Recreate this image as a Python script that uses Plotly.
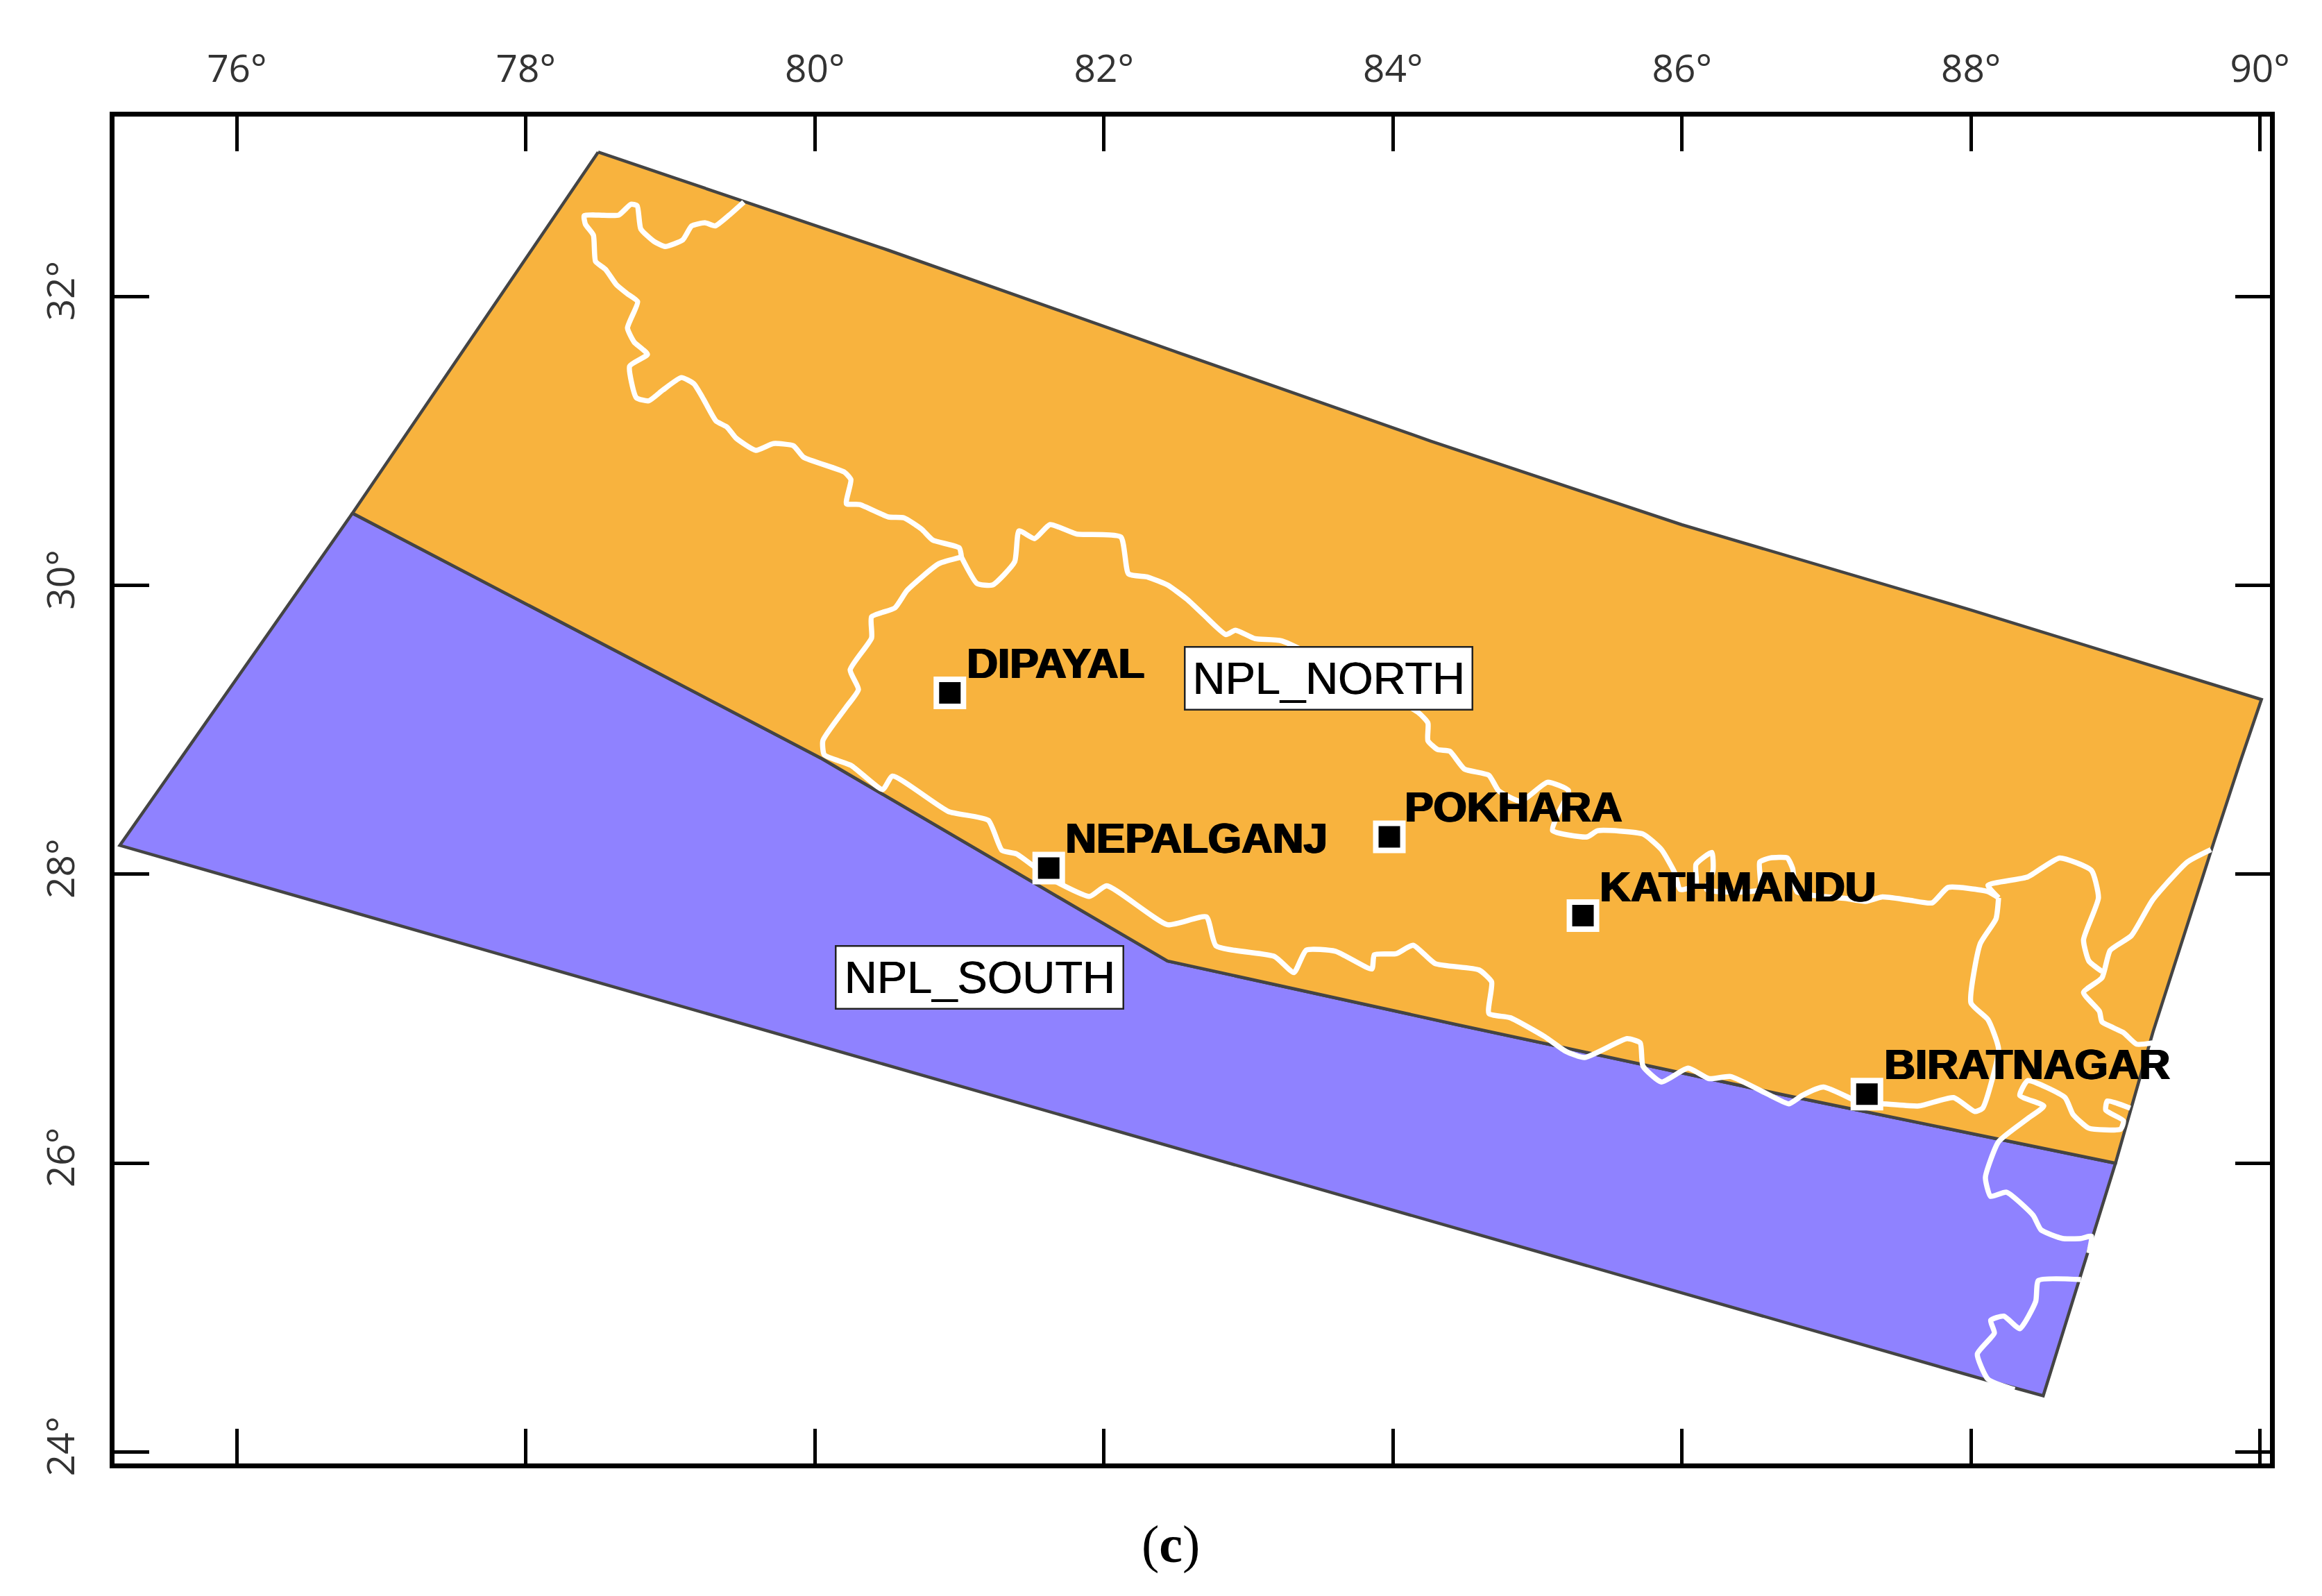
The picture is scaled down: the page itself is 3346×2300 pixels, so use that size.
import plotly.graph_objects as go

# Region polygons (longitude, latitude in degrees)
north_lon = [78.50, 80.51, 82.52, 84.26, 86.00, 88.00, 90.01, 89.86, 89.68, 89.48, 89.26, 89.00, 86.72, 84.44, 82.44, 80.05, 76.80, 78.50]
north_lat = [33.00, 32.32, 31.61, 31.00, 30.42, 29.83, 29.21, 28.77, 28.22, 27.60, 26.91, 26.00, 26.47, 26.96, 27.40, 28.80, 30.50, 33.00]
south_lon = [76.80, 80.05, 82.44, 84.44, 86.72, 89.00, 88.82, 88.50, 88.10, 84.44, 75.19, 76.80]
south_lat = [30.50, 28.80, 27.40, 26.96, 26.47, 26.00, 25.42, 24.39, 24.50, 25.55, 28.20, 30.50]

# White boundary lines
india_nw_lon = [79.508, 79.407, 79.309, 79.239, 79.147, 79.086, 78.963, 78.886, 78.795, 78.770, 78.727, 78.642, 78.504, 78.403, 78.412, 78.467, 78.482, 78.550, 78.626, 78.703, 78.773, 78.703, 78.749, 78.841, 78.718, 78.764, 78.850, 78.948, 79.076, 79.162, 79.223, 79.315, 79.392, 79.453, 79.591, 79.713, 79.851, 79.921, 80.203, 80.249, 80.218, 80.310, 80.509, 80.616, 80.739, 80.815, 80.999, 81.014]
india_nw_lat = [32.654, 32.564, 32.489, 32.511, 32.489, 32.393, 32.346, 32.382, 32.468, 32.629, 32.639, 32.564, 32.564, 32.560, 32.500, 32.425, 32.243, 32.189, 32.082, 32.018, 31.964, 31.782, 31.685, 31.600, 31.518, 31.300, 31.278, 31.353, 31.439, 31.396, 31.300, 31.139, 31.096, 31.021, 30.935, 30.982, 30.967, 30.888, 30.785, 30.732, 30.566, 30.560, 30.474, 30.468, 30.389, 30.314, 30.260, 30.196]

nepal_north_lon = [81.014, 81.122, 81.229, 81.382, 81.412, 81.520, 81.627, 81.811, 82.117, 82.170, 82.305, 82.440, 82.574, 82.692, 82.844, 82.911, 83.046, 83.231, 84.174, 84.242, 84.242, 84.309, 84.393, 84.494, 84.664, 84.731, 84.885, 85.069, 85.215, 85.142, 85.105, 85.344, 85.417, 85.730, 85.858, 85.950, 85.987, 86.097, 86.097, 86.207, 86.215, 86.171, 86.538, 86.538, 86.611, 86.729, 86.766, 86.795, 87.144, 87.273, 87.383, 87.567, 87.732, 87.842, 88.118, 88.191]
nepal_north_lat = [30.196, 30.013, 30.003, 30.163, 30.378, 30.324, 30.421, 30.356, 30.335, 30.080, 30.057, 30.003, 29.905, 29.795, 29.660, 29.690, 29.631, 29.616, 29.121, 29.048, 28.925, 28.864, 28.852, 28.729, 28.686, 28.579, 28.506, 28.637, 28.579, 28.419, 28.302, 28.259, 28.302, 28.279, 28.171, 28.011, 27.895, 27.924, 28.069, 28.151, 28.026, 27.895, 27.895, 28.084, 28.113, 28.113, 28.040, 27.880, 27.831, 27.813, 27.843, 27.822, 27.802, 27.909, 27.880, 27.837]

nepal_south_lon = [81.014, 80.857, 80.638, 80.553, 80.392, 80.392, 80.244, 80.301, 80.217, 80.055, 80.065, 80.250, 80.469, 80.537, 80.924, 81.200, 81.294, 81.395, 81.631, 81.901, 82.019, 82.440, 82.709, 82.776, 83.180, 83.315, 83.400, 83.602, 83.854, 83.871, 84.022, 84.140, 84.292, 84.595, 84.683, 84.664, 84.811, 85.050, 85.197, 85.326, 85.620, 85.711, 85.730, 85.858, 86.042, 86.189, 86.336, 86.611, 86.740, 86.832, 86.979, 87.280, 87.383, 87.640, 87.879, 88.026, 88.081, 88.191, 88.118, 88.000, 88.063, 88.173, 88.191]
nepal_south_lat = [30.196, 30.150, 29.966, 29.844, 29.783, 29.636, 29.415, 29.280, 29.158, 28.925, 28.827, 28.754, 28.587, 28.680, 28.435, 28.374, 28.166, 28.141, 27.970, 27.847, 27.921, 27.651, 27.705, 27.504, 27.431, 27.320, 27.475, 27.467, 27.345, 27.443, 27.450, 27.509, 27.382, 27.338, 27.255, 27.036, 27.007, 26.876, 26.774, 26.731, 26.862, 26.833, 26.672, 26.562, 26.658, 26.585, 26.600, 26.469, 26.411, 26.469, 26.527, 26.400, 26.411, 26.396, 26.454, 26.358, 26.381, 26.789, 26.993, 27.109, 27.517, 27.691, 27.837]

sikkim_lon = [88.191, 88.118, 88.393, 88.614, 88.834, 88.882, 88.779, 88.816, 88.907]
sikkim_lat = [27.837, 27.924, 27.982, 28.113, 28.026, 27.837, 27.546, 27.400, 27.327]

bhutan_lon = [89.661, 89.496, 89.257, 89.110, 88.963, 88.907, 88.779, 88.889, 88.907, 89.054, 89.146, 89.257]
bhutan_lat = [28.171, 28.084, 27.822, 27.575, 27.473, 27.284, 27.182, 27.051, 26.978, 26.905, 26.824, 26.833]

bengal_lon = [89.102, 88.944, 88.933, 89.055, 89.036, 88.816, 88.706, 88.651, 88.393, 88.338, 88.504, 88.393, 88.191, 88.100, 88.136, 88.246, 88.430, 88.485, 88.633, 88.761, 88.834, 88.816]
bengal_lat = [26.381, 26.431, 26.367, 26.294, 26.236, 26.242, 26.338, 26.454, 26.571, 26.469, 26.396, 26.309, 26.149, 25.901, 25.770, 25.799, 25.639, 25.538, 25.479, 25.479, 25.494, 25.377]

malda_lon = [88.761, 88.467, 88.448, 88.338, 88.228, 88.136, 88.162, 88.044, 88.118, 88.302]
malda_lat = [25.194, 25.188, 25.043, 24.854, 24.941, 24.912, 24.824, 24.679, 24.504, 24.432]

# Stations
station_names = ["DIPAYAL", "NEPALGANJ", "POKHARA", "KATHMANDU", "BIRATNAGAR"]
station_lon = [80.934, 81.618, 83.975, 85.315, 87.280]
station_lat = [29.256, 28.043, 28.259, 27.714, 26.478]
label_lon = [81.040, 81.724, 84.069, 85.418, 87.387]
label_lat = [29.464, 28.251, 28.467, 27.918, 26.687]

# Region labels
region_names = ["NPL_NORTH", "NPL_SOUTH"]
region_lon = [83.556, 81.139]
region_lat = [29.359, 27.286]

# Axes
x_ticks = [76, 78, 80, 82, 84, 86, 88, 90]
y_ticks = [24, 26, 28, 30, 32]
x_labels = ["76°", "78°", "80°", "82°", "84°", "86°", "88°", "90°"]
y_labels = ["24°", "26°", "28°", "30°", "32°"]
x_range = [75.153, 90.069]
y_range = [23.921, 33.246]
caption = "(<b>c</b>)"

ORANGE = "#F8B33E"
PURPLE = "#8F82FF"
EDGE = "#444444"

fig = go.Figure()
fig.add_trace(go.Scatter(x=south_lon, y=south_lat, mode="lines", fill="toself", fillcolor=PURPLE,
                         line=dict(color=EDGE, width=4.5), hoverinfo="skip"))
fig.add_trace(go.Scatter(x=north_lon, y=north_lat, mode="lines", fill="toself", fillcolor=ORANGE,
                         line=dict(color=EDGE, width=4.5), hoverinfo="skip"))
for blon, blat in [(india_nw_lon, india_nw_lat), (nepal_north_lon, nepal_north_lat),
                   (nepal_south_lon, nepal_south_lat), (sikkim_lon, sikkim_lat),
                   (bhutan_lon, bhutan_lat), (bengal_lon, bengal_lat), (malda_lon, malda_lat)]:
    fig.add_trace(go.Scatter(x=blon, y=blat, mode="lines",
                             line=dict(color="white", width=7.5, shape="spline", smoothing=0.5), hoverinfo="skip"))
fig.add_trace(go.Scatter(x=station_lon, y=station_lat, mode="markers",
                         marker=dict(symbol="square", size=39, color="black",
                                     line=dict(color="white", width=8)),
                         text=station_names, hoverinfo="text"))

for name, lon, lat in zip(station_names, label_lon, label_lat):
    fig.add_annotation(x=lon, y=lat, text=f"<b>{name}</b>", showarrow=False, xanchor="left", yanchor="middle",
                       font=dict(family="Liberation Sans", size=62, color="black",
                                 shadow="1.5px 0 0 black, -1px 0 0 black"))
for name, lon, lat in zip(region_names, region_lon, region_lat):
    fig.add_annotation(x=lon, y=lat, text=name, showarrow=False, xanchor="center", yanchor="middle",
                       width=412, height=88, align="center", valign="middle",
                       font=dict(family="Liberation Sans", size=65, color="black", shadow="0.8px 0 0 black"),
                       bgcolor="white", bordercolor="#222222", borderwidth=2.5, borderpad=0)
fig.add_annotation(xref="paper", yref="paper", x=0.490, y=-0.060, text=caption, showarrow=False,
                   xanchor="center", yanchor="middle",
                   font=dict(family="Liberation Serif", size=76, color="black"))

axis_common = dict(showgrid=False, zeroline=False, showline=True, linecolor="black", linewidth=7,
                   mirror="ticks", ticks="inside", ticklen=50, tickwidth=5, tickcolor="black",
                   tickfont=dict(family="Open Sans", size=55, color="#333333"))
fig.update_xaxes(range=x_range, tickmode="array", tickvals=x_ticks, ticktext=x_labels, side="top",
                 ticklabelstandoff=21, **axis_common)
fig.update_yaxes(range=y_range, tickmode="array", tickvals=y_ticks, ticktext=y_labels, tickangle=-90,
                 ticklabelstandoff=29, **axis_common)

fig.update_layout(width=3346, height=2300, autosize=False, showlegend=False,
                  paper_bgcolor="white", plot_bgcolor="white",
                  margin=dict(l=156.5, r=82.5, t=159.5, b=198.5, autoexpand=False))
fig.write_html("out.html")
